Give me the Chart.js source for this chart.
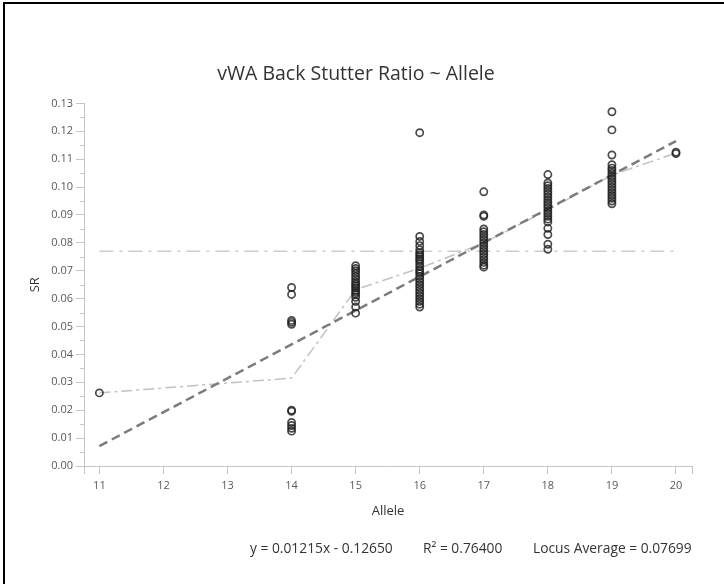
<!DOCTYPE html>
<html><head><meta charset="utf-8">
<script src="https://cdn.jsdelivr.net/npm/chart.js@4"></script>
<style>
html,body{margin:0;padding:0;background:#fff;}
#wrap{position:relative;width:724px;height:584px;overflow:hidden;}
#frame{position:absolute;left:3px;top:2px;width:730px;height:600px;border-top:2px solid #000;border-left:2px solid #000;pointer-events:none;}
canvas{position:absolute;left:0;top:0;}
</style></head>
<body><div id="wrap"><canvas id="c" width="724" height="584"></canvas><div id="frame"></div></div>
<script>
// ---- data ----
const chartTitle = 'vWA Back Stutter Ratio ~ Allele';
const xTitle = 'Allele';
const yTitle = 'SR';
const alleles = [11, 14, 15, 16, 17, 18, 19, 20];
const sr11 = [0.0262];
const sr14 = [0.0640, 0.0615, 0.0522, 0.0515, 0.0508, 0.0200, 0.0196, 0.0156, 0.0145, 0.0135, 0.0125];
const sr15 = [0.0718, 0.0708, 0.0700, 0.0690, 0.0680, 0.0670, 0.0660, 0.0652, 0.0645, 0.0638, 0.0630, 0.0622, 0.0615, 0.0605, 0.0590, 0.0570, 0.0548];
const sr16 = [0.1195, 0.0823, 0.0805, 0.0790, 0.0775, 0.0765, 0.0758, 0.0750, 0.0742, 0.0735, 0.0725, 0.0715, 0.0705, 0.0698, 0.0690, 0.0680, 0.0670, 0.0660, 0.0650, 0.0640, 0.0630, 0.0620, 0.0610, 0.0600, 0.0590, 0.0580, 0.0570];
const sr17 = [0.0983, 0.0900, 0.0895, 0.0850, 0.0840, 0.0830, 0.0820, 0.0810, 0.0800, 0.0790, 0.0780, 0.0770, 0.0760, 0.0750, 0.0740, 0.0730, 0.0720, 0.0713];
const sr18 = [0.1045, 0.1015, 0.1005, 0.0995, 0.0985, 0.0975, 0.0965, 0.0955, 0.0945, 0.0935, 0.0925, 0.0915, 0.0905, 0.0895, 0.0885, 0.0875, 0.0852, 0.0830, 0.0795, 0.0777];
const sr19 = [0.1270, 0.1205, 0.1115, 0.1080, 0.1068, 0.1060, 0.1050, 0.1040, 0.1030, 0.1020, 0.1010, 0.1000, 0.0990, 0.0980, 0.0970, 0.0960, 0.0950, 0.0940];
const sr20 = [0.1125, 0.1120];
const srByAllele = [sr11, sr14, sr15, sr16, sr17, sr18, sr19, sr20];
const meanSR = [0.0262, 0.0315, 0.0632, 0.0709, 0.0800, 0.0918, 0.1043, 0.1122];
const fitX = [11, 20];
const fitY = [0.00715, 0.11650];
const locusAverage = 0.07699;
const xTicks = [11, 12, 13, 14, 15, 16, 17, 18, 19, 20];
const footerTexts = ['y = 0.01215x - 0.12650', 'R\u00B2 = 0.76400', 'Locus Average = 0.07699'];

// ---- build ----
const FONT = '"Open Sans", "Noto Sans", sans-serif';
const AXIS = '#c6c6c6';
const points = [];
alleles.forEach((a, i) => srByAllele[i].forEach(v => points.push({x: a, y: v})));
const meanPts = alleles.map((a, i) => ({x: a, y: meanSR[i]}));
const fitPts = fitX.map((a, i) => ({x: a, y: fitY[i]}));
const avgPts = [{x: alleles[0], y: locusAverage}, {x: alleles[alleles.length - 1], y: locusAverage}];
const X_MIN = 10.76, X_MAX = 20.25;

const extras = {
  id: 'extras',
  afterDraw(chart) {
    const ctx = chart.ctx, ys = chart.scales.y;
    ctx.save();
    ctx.strokeStyle = AXIS; ctx.lineWidth = 1;
    for (let k = 0; k < 13; k++) {
      const v = 0.005 + k * 0.01;
      const py = Math.round(ys.getPixelForValue(v)) + 0.5;
      ctx.beginPath(); ctx.moveTo(ys.right - 4, py); ctx.lineTo(ys.right, py); ctx.stroke();
    }
    ctx.fillStyle = '#333';
    ctx.font = '13.8px ' + FONT;
    ctx.textBaseline = 'middle';
    const xs = [250, 423, 533];
    footerTexts.forEach((t, i) => ctx.fillText(t, xs[i], 549));
    ctx.restore();
  }
};

new Chart(document.getElementById('c'), {
  type: 'scatter',
  data: {
    datasets: [
      {label: 'points', data: points, order: 0, pointRadius: 3.6, pointBorderWidth: 1.7,
       borderColor: 'rgba(30,30,30,0.8)', backgroundColor: 'rgba(255,255,255,0)', pointHoverRadius: 3.6},
      {label: 'fit', data: fitPts, order: 1, showLine: true, pointRadius: 0, borderColor: '#7c7c7c',
       borderWidth: 2.5, borderDash: [9, 5]},
      {label: 'mean', data: meanPts, order: 2, showLine: true, pointRadius: 0, borderColor: '#c2c2c2',
       borderWidth: 1.5, borderDash: [11, 4, 3, 4], tension: 0},
      {label: 'avg', data: avgPts, order: 3, showLine: true, pointRadius: 0, borderColor: '#cccccc',
       borderWidth: 1.5, borderDash: [14, 6, 3, 6]}
    ]
  },
  options: {
    responsive: false, animation: false,
    layout: {padding: {left: 20, right: 32, top: 0, bottom: 58}},
    plugins: {
      legend: {display: false}, tooltip: {enabled: false},
      title: {display: true, text: chartTitle, color: '#333', font: {family: FONT, size: 19.5, weight: 'normal'},
              padding: {top: 63, bottom: 17}}
    },
    scales: {
      x: {
        type: 'linear', min: X_MIN, max: X_MAX,
        afterBuildTicks: s => { s.ticks = [X_MIN].concat(xTicks, [X_MAX]).map(v => ({value: v})); },
        afterFit: s => { s.height = 60; },
        ticks: {color: '#5a5a5a', font: {family: FONT, size: 11}, padding: 5, maxRotation: 0, autoSkip: false,
                callback: v => (xTicks.includes(v) ? String(v) : '')},
        grid: {display: true, drawOnChartArea: false, drawTicks: true, tickLength: 8, color: AXIS},
        border: {display: true, color: AXIS, width: 1},
        title: {display: true, text: xTitle, color: '#333', font: {family: FONT, size: 13}, padding: {top: 0, bottom: 7}}
      },
      y: {
        type: 'linear', min: 0, max: 0.13,
        afterFit: s => { s.width = 64; },
        ticks: {stepSize: 0.01, color: '#5a5a5a', font: {family: FONT, size: 11}, padding: 3,
                callback: v => v.toFixed(2)},
        grid: {display: true, drawOnChartArea: false, drawTicks: true, tickLength: 8, color: AXIS},
        border: {display: true, color: AXIS, width: 1},
        title: {display: true, text: yTitle, color: '#333', font: {family: FONT, size: 13}, padding: {top: 7, bottom: 0}}
      }
    }
  },
  plugins: [extras]
});
</script>
</body></html>
